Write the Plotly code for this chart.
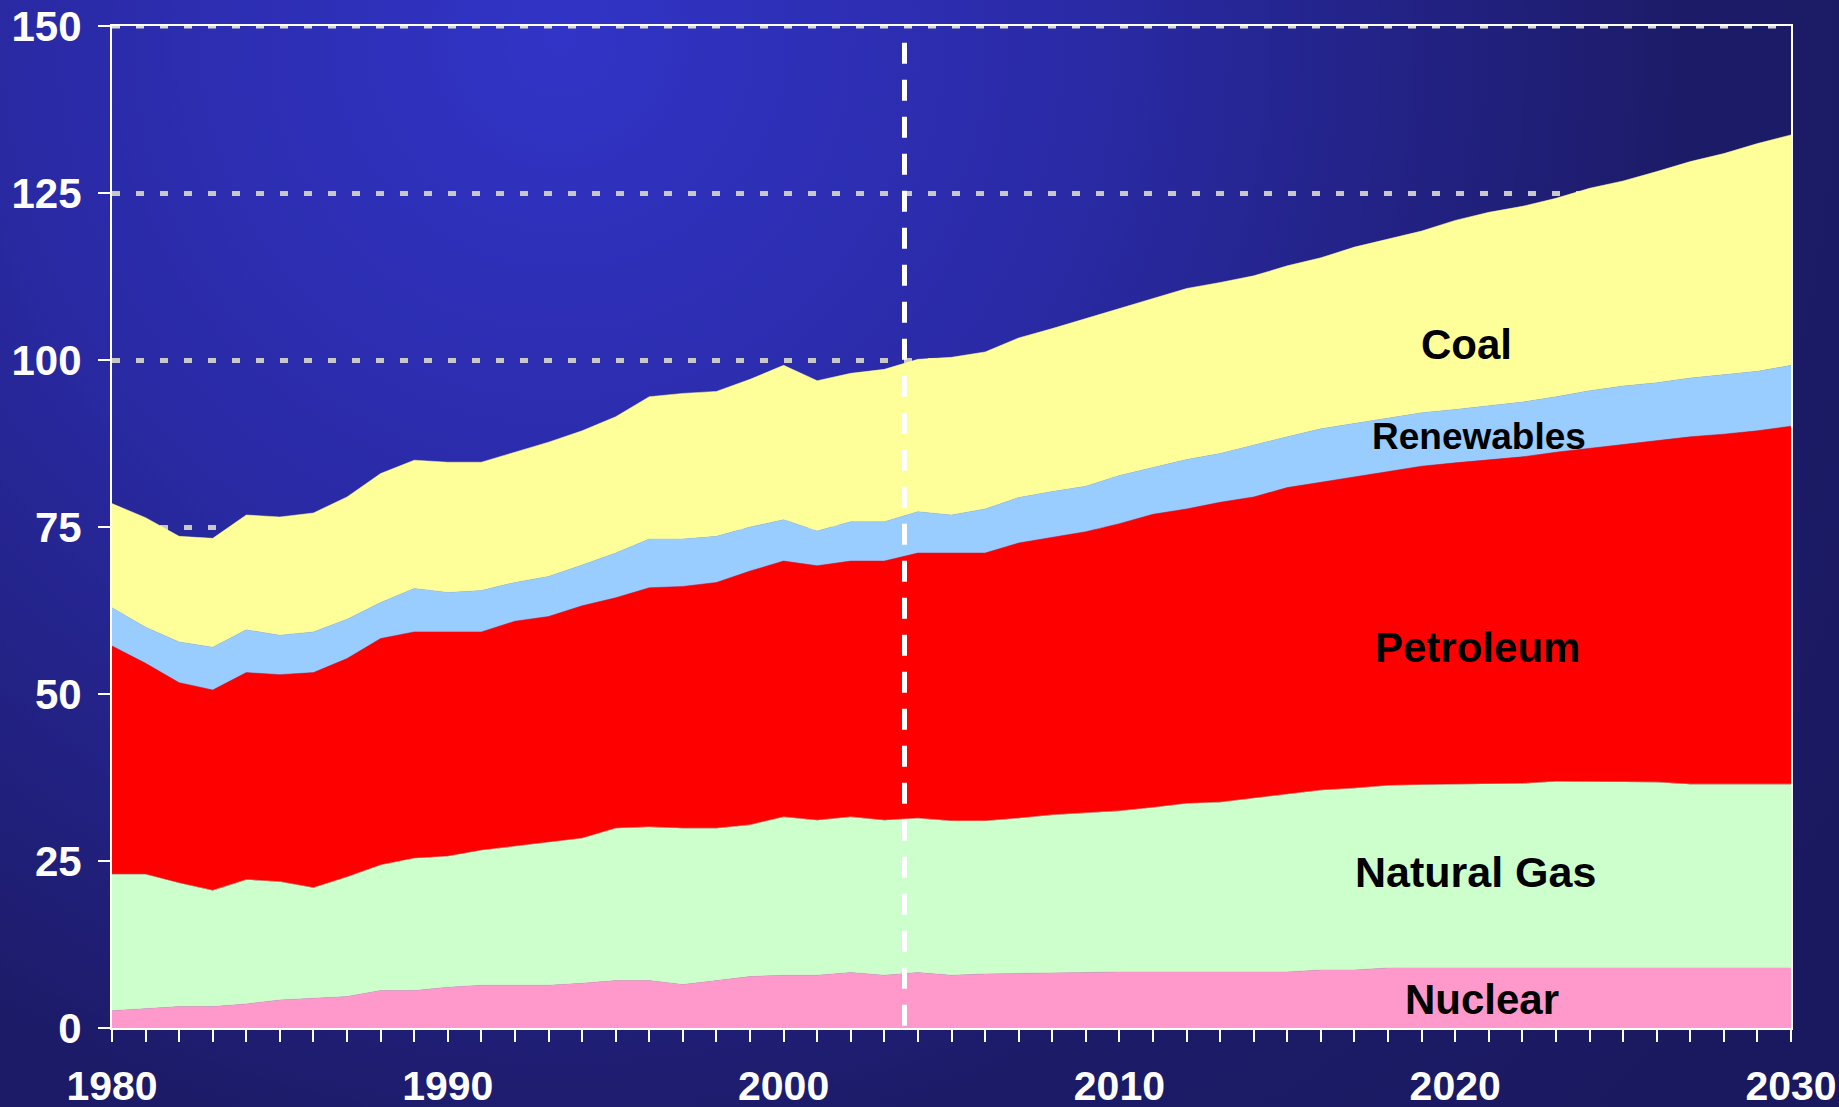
import base64
import plotly.graph_objects as go

years = list(range(1980, 2031))

nuclear = [2.6, 2.9, 3.2, 3.2, 3.6, 4.2, 4.5, 4.7, 5.6, 5.6,
           6.1, 6.4, 6.4, 6.4, 6.7, 7.1, 7.1, 6.5, 7.1, 7.7,
           7.9, 7.9, 8.3, 7.9, 8.3, 7.9, 8.1, 8.2, 8.2, 8.4,
           8.4, 8.4, 8.4, 8.4, 8.4, 8.4, 8.7, 8.7, 9.0, 9.0,
           9.0, 9.0, 9.0, 9.0, 9.0, 9.0, 9.0, 9.0, 9.0, 9.0, 9.0]

natural_gas = [20.4, 20.1, 18.5, 17.4, 18.6, 17.7, 16.5, 17.9, 18.8, 19.8,
               19.6, 20.2, 20.8, 21.4, 21.7, 22.8, 23.0, 23.4, 22.8, 22.7,
               23.7, 23.2, 23.3, 23.2, 23.1, 23.1, 22.9, 23.2, 23.7, 23.8,
               24.1, 24.6, 25.2, 25.4, 26.0, 26.5, 26.9, 27.2, 27.3, 27.4,
               27.5, 27.5, 27.6, 27.9, 27.9, 27.9, 27.8, 27.5, 27.5, 27.5, 27.5]

petroleum = [34.2, 31.6, 30.0, 30.0, 31.0, 31.0, 32.2, 32.7, 33.9, 33.9,
             33.6, 32.7, 33.7, 33.8, 34.8, 34.5, 35.8, 36.2, 36.8, 38.0,
             38.3, 38.1, 38.3, 38.8, 39.7, 40.1, 40.1, 41.2, 41.5, 42.1,
             43.0, 43.9, 44.1, 44.9, 45.1, 46.0, 46.1, 46.6, 47.1, 47.7,
             48.1, 48.6, 48.9, 49.3, 49.9, 50.5, 51.1, 52.0, 52.4, 52.9, 53.6]

renewables = [5.7, 5.4, 6.1, 6.4, 6.4, 5.9, 6.1, 5.9, 5.4, 6.5,
              5.9, 6.2, 5.8, 6.0, 6.1, 6.7, 7.3, 7.1, 6.9, 6.6,
              6.2, 5.2, 5.9, 5.9, 6.2, 5.7, 6.6, 6.8, 6.9, 6.8,
              7.2, 7.0, 7.4, 7.3, 7.8, 7.6, 8.0, 8.0, 7.9, 8.0,
              8.0, 8.0, 8.2, 8.3, 8.6, 8.7, 8.7, 8.8, 8.9, 8.9, 9.1]

coal = [15.6, 16.4, 15.8, 16.3, 17.2, 17.7, 17.8, 18.3, 19.3, 19.2,
        19.5, 19.2, 19.5, 20.1, 20.1, 20.4, 21.3, 21.8, 21.7, 22.1,
        23.1, 22.5, 22.2, 22.8, 22.8, 23.6, 23.5, 23.9, 24.4, 25.1,
        25.0, 25.2, 25.6, 25.6, 25.3, 25.6, 25.6, 26.4, 26.8, 27.2,
        28.3, 29.0, 29.3, 29.7, 30.3, 30.7, 31.6, 32.4, 33.1, 34.1, 34.5]

series_names = ["Nuclear", "Natural Gas", "Petroleum", "Renewables", "Coal"]
series_values = [nuclear, natural_gas, petroleum, renewables, coal]
series_colors = ["#FF99CC", "#CCFFCC", "#FF0000", "#99CCFF", "#FFFF99"]

y_ticks = [0, 25, 50, 75, 100, 125, 150]
x_tick_labels = [str(y) if y % 10 == 0 else "" for y in years]

forecast_start = 2003.6

# label positions (year, value) for the in-chart labels
label_text = ["Coal", "Renewables", "Petroleum", "Natural Gas", "Nuclear"]
label_x = [2020.35, 2020.7, 2020.65, 2020.6, 2020.8]
label_y = [102.3, 88.6, 56.9, 23.3, 4.2]
label_size = [42, 37, 42, 43, 42]

W, H = 1839, 1107
ML, MR, MT, MB = 112, 48, 26, 79
PW, PH = W - ML - MR, H - MT - MB

svg = f'''<svg xmlns="http://www.w3.org/2000/svg" width="{W}" height="{H}" viewBox="0 0 {W} {H}" preserveAspectRatio="none">
<defs><radialGradient id="g" gradientUnits="userSpaceOnUse" cx="560" cy="40" r="1500">
<stop offset="0" stop-color="#3134C6"/>
<stop offset="0.35" stop-color="#2A2AA6"/>
<stop offset="0.75" stop-color="#1C1B68"/>
<stop offset="1" stop-color="#1A1960"/>
</radialGradient></defs>
<rect x="0" y="0" width="{W}" height="{H}" fill="url(#g)"/>
</svg>'''
bg_uri = "data:image/svg+xml;base64," + base64.b64encode(svg.encode()).decode()

fig = go.Figure()
for name, vals, col in zip(series_names, series_values, series_colors):
    fig.add_trace(go.Scatter(
        x=years, y=vals, name=name, stackgroup="one", mode="lines",
        line=dict(color=col, width=0.5), fillcolor=col, showlegend=False,
        hoverinfo="x+y+name"))

for t, xx, yy, sz in zip(label_text, label_x, label_y, label_size):
    fig.add_annotation(x=xx, y=yy, text=t, showarrow=False,
                       font=dict(family="Liberation Sans, Arial", size=sz,
                                 color="black", weight="bold"))

# forecast divider
fig.add_shape(type="line", x0=forecast_start, x1=forecast_start, y0=147.5, y1=0,
              xref="x", yref="y", layer="above",
              line=dict(color="white", width=5, dash="21px,16px"))
# dotted overlay on top border
fig.add_shape(type="line", x0=1980, x1=2030, y0=150, y1=150, xref="x", yref="y",
              layer="above", line=dict(color="#D8D8D8", width=5, dash="8px,16px"))

fig.update_layout(
    width=W, height=H,
    margin=dict(l=ML, r=MR, t=MT, b=MB, autoexpand=False),
    paper_bgcolor="#1A1960",
    plot_bgcolor="rgba(0,0,0,0)",
    font=dict(family="Liberation Sans, Arial", color="white"),
    images=[dict(source=bg_uri, xref="paper", yref="paper",
                 x=-ML / PW, y=1 + MT / PH, sizex=W / PW, sizey=H / PH,
                 xanchor="left", yanchor="top", sizing="stretch", layer="below")],
    xaxis=dict(range=[1980, 2030], tickvals=years, ticktext=x_tick_labels,
               ticks="outside", ticklen=12, tickwidth=2, tickcolor="white",
               showgrid=False, zeroline=False, showline=True, linecolor="white",
               linewidth=2, mirror=True, ticklabelstandoff=9,
               tickfont=dict(size=41, color="white", weight="bold",
                             family="Liberation Sans, Arial")),
    yaxis=dict(range=[0, 150], tickvals=y_ticks, ticks="outside", ticklen=12,
               tickwidth=2, tickcolor="white", showgrid=True, gridcolor="#C8C8C8",
               gridwidth=5, griddash="8px,16px", zeroline=False, showline=True,
               linecolor="white", linewidth=2, mirror=True, ticklabelstandoff=8,
               tickfont=dict(size=42, color="white", weight="bold",
                             family="Liberation Sans, Arial")),
)

fig.write_html(
    "out.html",
    config={"displayModeBar": False},
    post_script="document.body.style.margin='0';document.body.style.overflow='hidden';",
)
